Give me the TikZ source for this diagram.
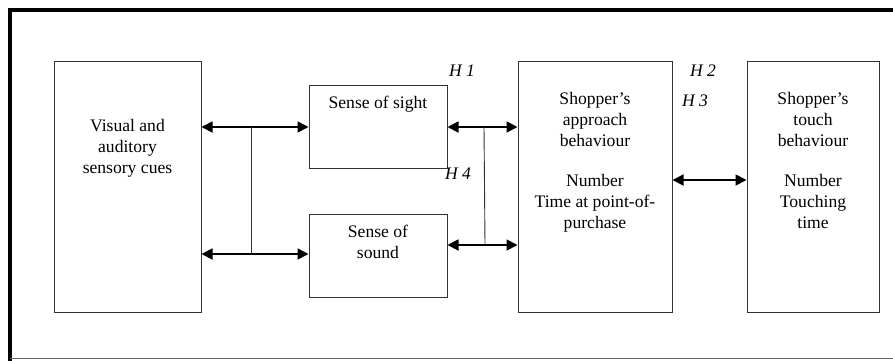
\documentclass[tikz,border=0pt]{standalone}
\usepackage{fontspec}
\setmainfont{Liberation Serif}
\usetikzlibrary{arrows.meta}
\begin{document}
\begin{tikzpicture}[x=1pt,y=-1pt,
  box/.style={draw=black!80, line width=1pt, inner sep=0pt},
  lbl/.style={font=\fontsize{17.6}{21}\selectfont, align=center, inner sep=0pt, anchor=north},
  hyp/.style={font=\fontsize{17.6}{21}\selectfont\itshape, inner sep=0pt},
  dbl/.style={line width=1.8pt, {Triangle[length=11pt,width=11pt]}-{Triangle[length=11pt,width=11pt]}},
  bar/.style={line width=0.9pt, draw=black!80}]
\useasboundingbox (0,0) rectangle (893,360);
% outer frame
\draw[line width=3.5pt] (10,362) -- (10,9.75) -- (896,9.75);
\draw[line width=1.2pt, draw=black!60] (10,358.5) -- (896,358.5);
% boxes
\node[box, minimum width=147pt, minimum height=251pt] (vis) at (127.5,186.5) {};
\node[box, minimum width=138pt, minimum height=83pt] (sight) at (378,126.5) {};
\node[box, minimum width=138pt, minimum height=83pt] (sound) at (378,255.5) {};
\node[box, minimum width=154pt, minimum height=251pt] (appr) at (595,186.5) {};
\node[box, minimum width=132pt, minimum height=251pt] (touch) at (813,186.5) {};
% texts
\node[lbl] (tvis) at (127.5,119.5) {Visual and\\auditory\\sensory cues};
\node[lbl] (tsight) at (378,95.5) {Sense of sight};
\node[lbl] (tsound) at (378,224.5) {Sense of\\sound};
\node[lbl] (tappr) at (595,92.5) {Shopper’s\\approach\\behaviour\\[19pt]Number\\Time at point-of-\\purchase};
\node[lbl] (ttouch) at (813,92.5) {Shopper’s\\touch\\behaviour\\[19pt]Number\\Touching\\time};
% hypotheses
\node[hyp] (h1) at (462,71) {H 1};
\node[hyp] (h2) at (703,71) {H 2};
\node[hyp] (h3) at (695,101) {H 3};
\node[hyp] (h4) at (458,174) {H 4};
% connector coordinates
\coordinate (la) at (251,127);
\coordinate (lb) at (251,254);
\coordinate (ra) at (484,127);
\coordinate (rb) at (485,245);
% left arrows
\draw[dbl] (vis.east |- la) -- (sight.west |- la);
\draw[dbl] (vis.east |- lb) -- (sound.west |- lb);
\draw[bar] (la) -- (lb);
% right arrows
\draw[dbl] (sight.east |- ra) -- (appr.west |- ra);
\draw[dbl] (sound.east |- rb) -- (appr.west |- rb);
\draw[bar] (ra) -- (rb);
% middle arrow
\draw[dbl] (appr.east |- 0,180) -- (touch.west |- 0,180);
\end{tikzpicture}
\end{document}
